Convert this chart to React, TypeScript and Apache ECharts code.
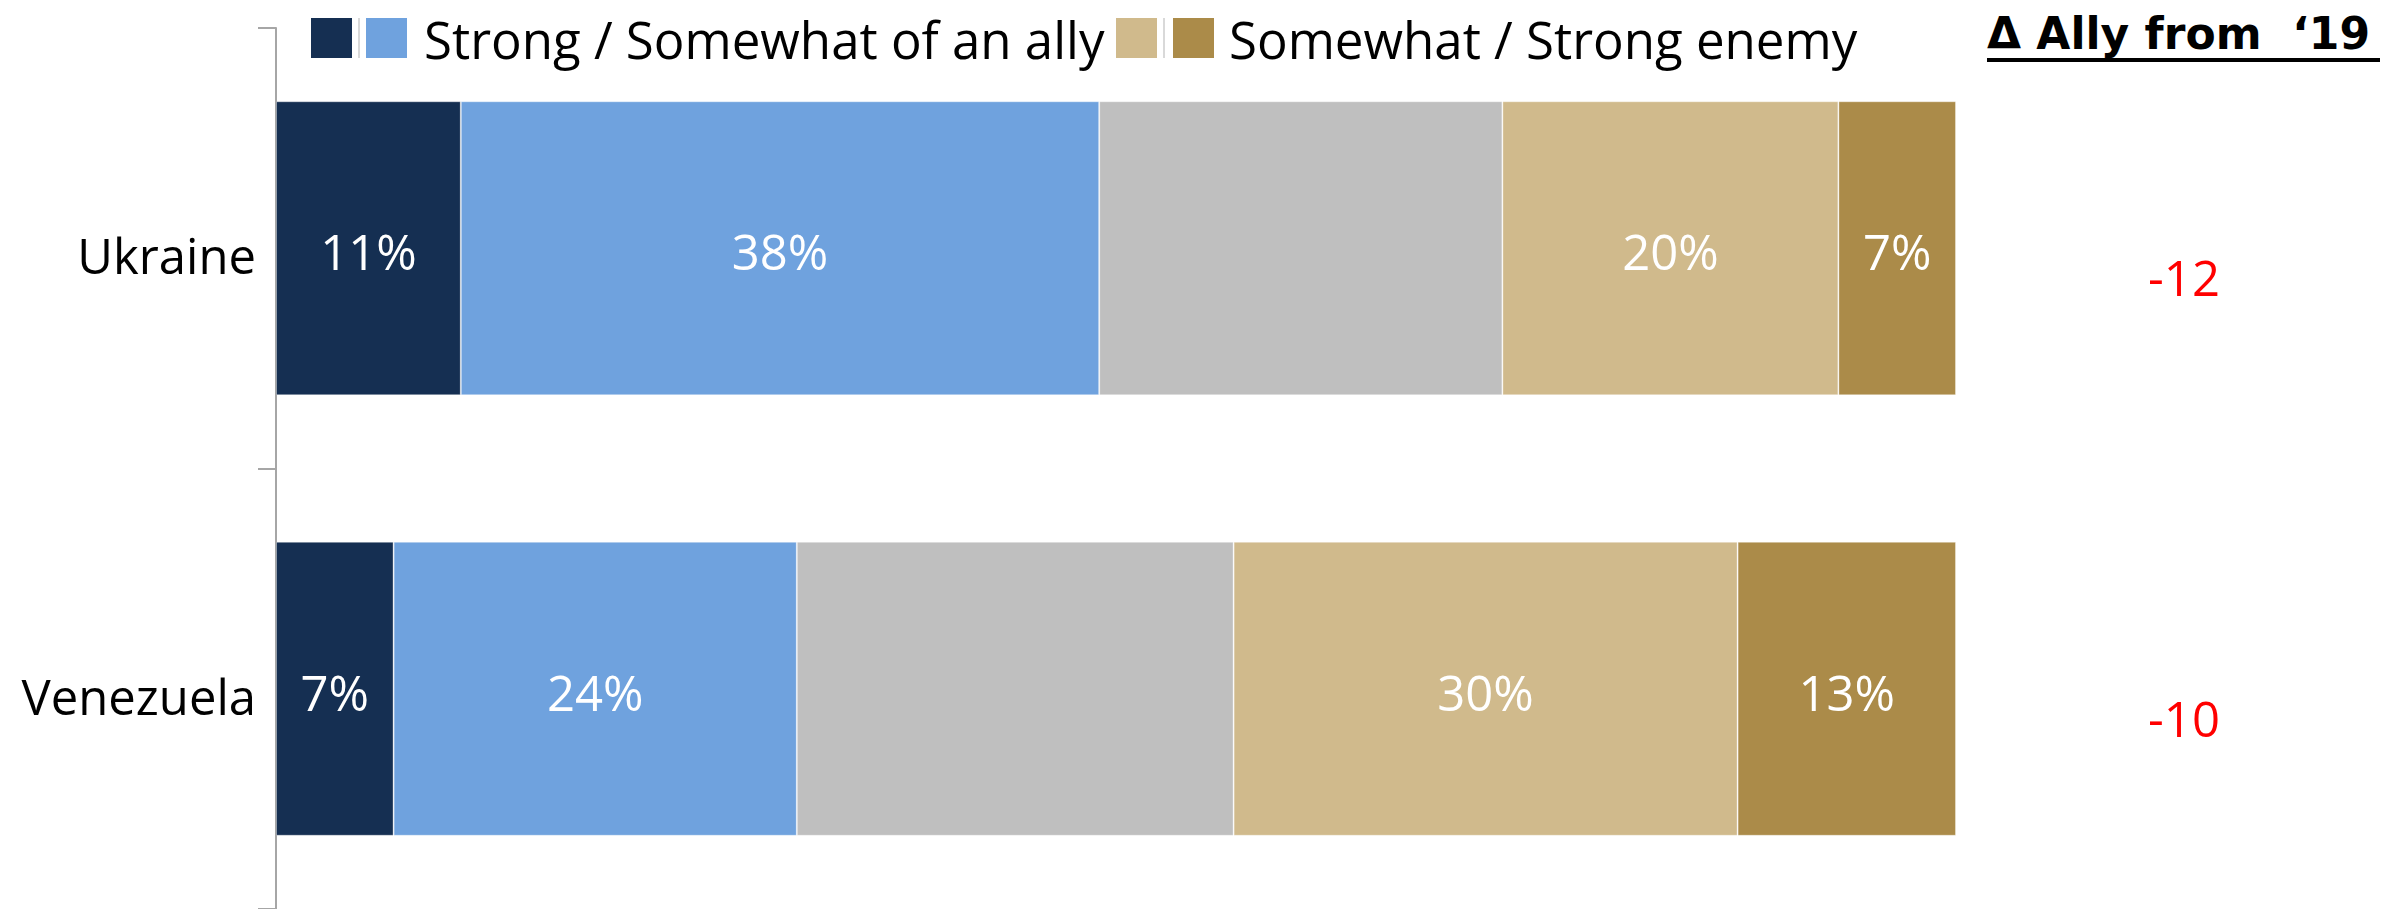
import React, { useEffect, useRef } from "react";
import * as echarts from "echarts";

const categories = ["Ukraine", "Venezuela"];
const strongAlly = [11, 7];
const somewhatAlly = [38, 24];
const neutral = [24, 26];
const somewhatEnemy = [20, 30];
const strongEnemy = [7, 13];
const deltaAlly = [-12, -10];
const legendAllyText = "Strong / Somewhat of an ally";
const legendEnemyText = "Somewhat / Strong enemy";
const headerText = "Δ Ally from  \u201819";

const FONT = "'Open Sans', 'Noto Sans', sans-serif";
const COLORS = ["#152F52", "#6FA2DE", "#BFBFBF", "#D0BA8C", "#AB8B49"];

export default function App() {
  const ref = useRef<HTMLDivElement>(null);

  useEffect(() => {
    document.body.style.margin = "0";
    const chart = echarts.init(ref.current!, null, { renderer: "svg" });

    const mkSeries = (name: string, data: number[], color: string, showLabel: boolean) => ({
      name,
      type: "bar",
      stack: "total",
      data,
      barWidth: 294,
      itemStyle: { color, borderColor: "rgba(255,255,255,0.35)", borderWidth: 1 },
      label: {
        show: showLabel,
        position: "inside",
        offset: [0, 3],
        formatter: "{c}%",
        color: "#FFFFFF",
        fontSize: 49,
        fontFamily: FONT,
      },
      emphasis: { disabled: true },
    });

    const icon = (x: number, color: string) => ({
      type: "rect",
      shape: { x, y: 18, width: 41, height: 40 },
      style: { fill: color },
    });
    const sep = (x: number) => ({
      type: "rect",
      shape: { x, y: 18, width: 2, height: 40 },
      style: { fill: "#D9D9D9" },
    });

    chart.setOption({
      animation: false,
      backgroundColor: "#FFFFFF",
      grid: { left: 276, top: 28, width: 1680, height: 884, containLabel: false },
      xAxis: { type: "value", min: 0, max: 100, show: false },
      yAxis: [
        {
          type: "category",
          data: categories,
          inverse: true,
          axisLine: { show: true, lineStyle: { color: "#A6A6A6", width: 2 } },
          axisTick: { show: true, length: 18, lineStyle: { color: "#A6A6A6", width: 2 } },
          axisLabel: {
            color: "#000000",
            fontSize: 49,
            fontFamily: FONT,
            margin: 20,
            verticalAlign: "top",
            lineHeight: 14,
          },
          splitLine: { show: false },
        },
        {
          type: "category",
          data: categories,
          inverse: true,
          position: "right",
          axisLine: { show: false },
          axisTick: { show: false },
          axisLabel: {
            color: "#FF0000",
            fontSize: 49,
            fontFamily: FONT,
            align: "center",
            margin: 228,
            verticalAlign: "top",
            lineHeight: 58,
            formatter: (_v: string, idx: number) => String(deltaAlly[idx]),
          },
          splitLine: { show: false },
        },
      ],
      series: [
        mkSeries("Strong ally", strongAlly, COLORS[0], true),
        mkSeries("Somewhat ally", somewhatAlly, COLORS[1], true),
        mkSeries("Neutral", neutral, COLORS[2], false),
        mkSeries("Somewhat enemy", somewhatEnemy, COLORS[3], true),
        mkSeries("Strong enemy", strongEnemy, COLORS[4], true),
      ],
      graphic: [
        icon(311, COLORS[0]),
        sep(358),
        icon(366, COLORS[1]),
        {
          type: "text",
          x: 424,
          y: 39,
          style: {
            text: legendAllyText,
            fontSize: 51,
            fontFamily: FONT,
            fill: "#000000",
            verticalAlign: "middle",
            align: "left",
          },
        },
        icon(1116, COLORS[3]),
        sep(1163),
        icon(1173, COLORS[4]),
        {
          type: "text",
          x: 1229,
          y: 39,
          style: {
            text: legendEnemyText,
            fontSize: 51,
            fontFamily: FONT,
            fill: "#000000",
            verticalAlign: "middle",
            align: "left",
          },
        },
        {
          type: "text",
          x: 1987,
          y: 33,
          style: {
            text: headerText,
            fontSize: 44,
            fontWeight: "bold",
            fontFamily: "'DejaVu Sans', sans-serif",
            fill: "#000000",
            verticalAlign: "middle",
            align: "left",
          },
        },
        {
          type: "rect",
          shape: { x: 1987, y: 58, width: 393, height: 4 },
          style: { fill: "#000000" },
        },
      ],
    });

    return () => chart.dispose();
  }, []);

  return <div ref={ref} style={{ width: 2382, height: 909 }} />;
}
